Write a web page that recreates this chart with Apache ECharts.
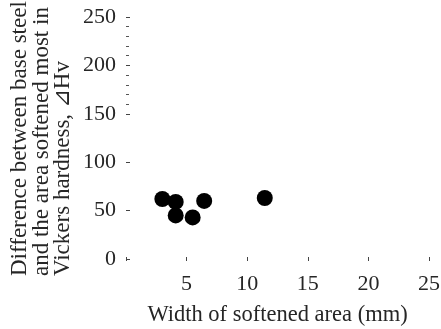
<!DOCTYPE html>
<html><head><meta charset="utf-8">
<script src="https://cdn.jsdelivr.net/npm/echarts@6/dist/echarts.min.js"></script>
<style>html,body{margin:0;padding:0;background:#fff}#c{width:441px;height:329px}</style>
</head><body><div id="c"></div>
<script>
var widthMm = [3.0, 4.1, 4.1, 5.5, 6.45, 11.45];
var deltaHv = [62, 59, 45, 43, 60, 63];
var xTickValues = [0, 5, 10, 15, 20, 25];
var xLabelValues = [5, 10, 15, 20, 25];
var yMajorValues = [0, 50, 100, 150, 200, 250];
var yMinorValues = [160, 170, 180, 190, 210, 220, 230, 240];
var xTitle = 'Width of softened area (mm)';
var yTitle = 'Difference between base steel\nand the area softened most in\nVickers hardness, \u22BFHv';

var FONT = '"Liberation Serif", "Times New Roman", serif';
var TXT = '#262626';
var points = widthMm.map(function (x, i) { return [x, deltaHv[i]]; });

var chart = echarts.init(document.getElementById('c'));
chart.setOption({
  animation: false,
  grid: { left: 126, right: 12, top: 17, bottom: 70, outerBoundsMode: 'none', containLabel: false },
  graphic: [{
    type: 'text', x: 74, y: 276, rotation: Math.PI / 2,
    style: {
      text: yTitle, fill: TXT, font: '23px ' + FONT, lineHeight: 21.5,
      align: 'left', verticalAlign: 'bottom'
    }
  }],
  xAxis: {
    type: 'value', min: 0, max: 25, offset: -2,
    name: xTitle, nameLocation: 'middle', nameGap: 47,
    nameTextStyle: { fontFamily: FONT, fontSize: 22.5, color: TXT },
    axisLine: { show: false },
    axisTick: { show: true, length: 4, customValues: xTickValues, lineStyle: { color: '#444', width: 1 } },
    axisLabel: { customValues: xLabelValues, margin: 16, fontFamily: FONT, fontSize: 22, color: TXT },
    splitLine: { show: false }
  },
  yAxis: [{
    type: 'value', min: 0, max: 250,
    axisLine: { show: false },
    axisTick: { show: true, inside: true, length: 4, customValues: yMajorValues, lineStyle: { color: '#444', width: 1 } },
    axisLabel: { customValues: yMajorValues, margin: 10, fontFamily: FONT, fontSize: 22, color: TXT },
    splitLine: { show: false }
  }, {
    type: 'value', min: 0, max: 250, position: 'left',
    axisLine: { show: false },
    axisTick: { show: true, inside: true, length: 3, customValues: yMinorValues, lineStyle: { color: '#555', width: 1 } },
    axisLabel: { show: false },
    splitLine: { show: false }
  }],
  series: [{
    type: 'scatter', data: points, symbolSize: 16,
    itemStyle: { color: '#000', opacity: 1 }
  }]
});
</script></body></html>
